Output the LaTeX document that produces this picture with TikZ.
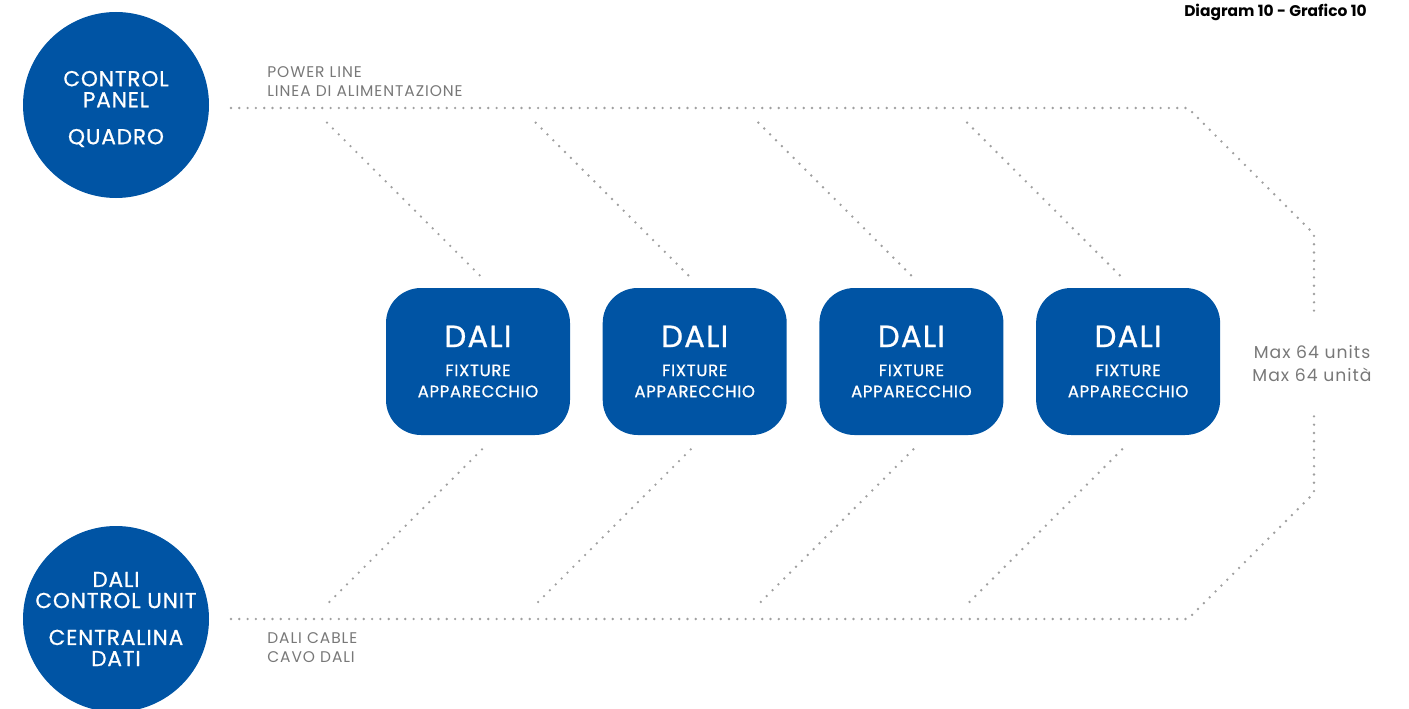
\documentclass[tikz,border=0pt]{standalone}
\usepackage{fontspec}
\setmainfont{Poppins}
\newfontfamily\boxfont[LetterSpace=4, FakeBold=0.8]{Poppins}
\newfontfamily\notefont[LetterSpace=6]{Poppins}
\usepackage{xcolor}
\usetikzlibrary{positioning}
\definecolor{daliblue}{RGB}{0,84,164}
\definecolor{wiregray}{RGB}{160,160,160}
\definecolor{notegray}{RGB}{120,120,120}

\begin{document}
\begin{tikzpicture}[
    hub/.style={circle, fill=daliblue, minimum size=3.72cm, inner sep=0pt},
    hubtext/.style={inner sep=0pt, text=white, align=center, font=\boxfont\fontsize{12.3}{12}\selectfont},
    fixture/.style={rounded corners=0.7cm, fill=daliblue, minimum width=3.68cm, minimum height=2.94cm, inner sep=0pt, text=white, align=center, font=\boxfont\fontsize{9.4}{12}\selectfont},
    wire/.style={wiregray, line width=1.5pt, line cap=round, dash pattern=on 0pt off 0.166cm},
    note/.style={text=notegray, align=left, anchor=west, inner sep=0pt, font=\notefont\fontsize{8.8}{10.8}\selectfont}
]
\useasboundingbox (0,0) rectangle (28.18,-14.18);

\node[anchor=east, inner sep=0pt, font=\bfseries\fontsize{8.8}{9}\selectfont] (title) at (27.34,-0.24) {Diagram 10 - Grafico 10};

\node[hub] (panel) at (2.32,-2.10) {};
\node[hubtext] (paneltext) at ([yshift=-0.08cm]panel.center) {CONTROL\\PANEL\\[9pt]QUADRO};
\node[hub] (unit) at (2.32,-12.38) {};
\node[hubtext] (unittext) at (unit.center) {DALI\\CONTROL UNIT\\[9pt]CENTRALINA\\DATI};

\node[fixture] (fx1) at (9.56,-7.23) {{\fontsize{17.5}{16}\selectfont DALI}\\[4.5pt]FIXTURE\\APPARECCHIO};
\node[fixture, right=0.64cm of fx1] (fx2) {{\fontsize{17.5}{16}\selectfont DALI}\\[4.5pt]FIXTURE\\APPARECCHIO};
\node[fixture, right=0.64cm of fx2] (fx3) {{\fontsize{17.5}{16}\selectfont DALI}\\[4.5pt]FIXTURE\\APPARECCHIO};
\node[fixture, right=0.64cm of fx3] (fx4) {{\fontsize{17.5}{16}\selectfont DALI}\\[4.5pt]FIXTURE\\APPARECCHIO};

\node[align=center, text=notegray, inner sep=0pt, font=\notefont\fontsize{9.8}{13}\selectfont] (max) at (26.24,-7.27) {Max 64 units\\Max 64 unità};

\node[note] (pwlabel) at (5.34,-1.63) {POWER LINE\\LINEA DI ALIMENTAZIONE};
\node[note] (dalilabel) at (5.34,-12.96) {DALI CABLE\\CAVO DALI};

% power line
\coordinate (pwA) at (4.62,-2.16);
\coordinate (pwB) at (23.76,-2.16);
\coordinate (pwC) at (26.28,-4.68);
\coordinate (pwD) at (26.28,-6.30);
\draw[wire] (pwA) -- (pwB) -- (pwC) -- (pwD);

% dali cable
\coordinate (dcA) at (4.62,-12.38);
\coordinate (dcB) at (23.76,-12.38);
\coordinate (dcC) at (26.28,-9.86);
\coordinate (dcD) at (26.28,-8.26);
\draw[wire] (dcA) -- (dcB) -- (dcC) -- (dcD);

% taps
\draw[wire] ([shift={(-3.02,3.30)}]fx1.north) -- ([shift={(0.08,0.20)}]fx1.north);
\draw[wire] ([shift={(-3.18,3.30)}]fx2.north) -- ([shift={(-0.08,0.20)}]fx2.north);
\draw[wire] ([shift={(-3.06,3.30)}]fx3.north) -- ([shift={(0.04,0.20)}]fx3.north);
\draw[wire] ([shift={(-3.22,3.30)}]fx4.north) -- ([shift={(-0.12,0.20)}]fx4.north);
\draw[wire] ([shift={(0.08,-0.28)}]fx1.south) -- ([shift={(-3.02,-3.38)}]fx1.south);
\draw[wire] ([shift={(-0.08,-0.28)}]fx2.south) -- ([shift={(-3.18,-3.38)}]fx2.south);
\draw[wire] ([shift={(0.04,-0.28)}]fx3.south) -- ([shift={(-3.06,-3.38)}]fx3.south);
\draw[wire] ([shift={(-0.12,-0.28)}]fx4.south) -- ([shift={(-3.22,-3.38)}]fx4.south);
\end{tikzpicture}
\end{document}
